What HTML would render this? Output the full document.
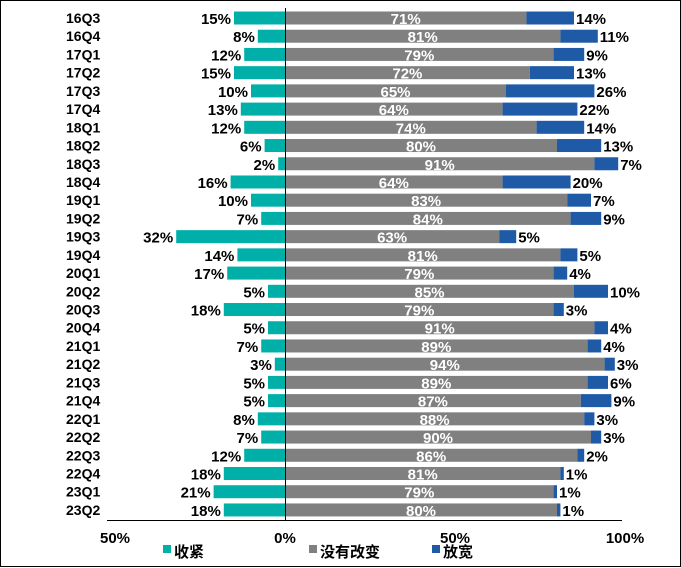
<!DOCTYPE html>
<html><head><meta charset="utf-8"><style>
html,body{margin:0;padding:0;background:#fff;}
svg{display:block;font-family:"Liberation Sans","Noto Sans CJK SC",sans-serif;font-weight:bold;}
</style></head><body>
<svg id="chart" width="681" height="568">
<rect x="0.5" y="0.5" width="680" height="566" fill="#fff" stroke="#000"/>
<g id="bars"></g>
<line x1="107" y1="520.5" x2="622" y2="520.5" stroke="#000"/>
<line x1="285.5" y1="8" x2="285.5" y2="520" stroke="#000"/>
<g id="ticks" font-size="15"></g>
<g font-size="15">
<rect x="163" y="545" width="8" height="8" fill="#00b0a8"/>
<text x="174" y="557">收紧</text>
<rect x="309" y="545" width="8" height="8" fill="#808080"/>
<text x="320" y="557">没有改变</text>
<rect x="432" y="545" width="8" height="8" fill="#1f5aa6"/>
<text x="443" y="557">放宽</text>
</g>
</svg>
<script>
const categories=["16Q3","16Q4","17Q1","17Q2","17Q3","17Q4","18Q1","18Q2","18Q3","18Q4","19Q1","19Q2","19Q3","19Q4","20Q1","20Q2","20Q3","20Q4","21Q1","21Q2","21Q3","21Q4","22Q1","22Q2","22Q3","22Q4","23Q1","23Q2"];
const tighten=[15,8,12,15,10,13,12,6,2,16,10,7,32,14,17,5,18,5,7,3,5,5,8,7,12,18,21,18];
const noChange=[71,81,79,72,65,64,74,80,91,64,83,84,63,81,79,85,79,91,89,94,89,87,88,90,86,81,79,80];
const loosen=[14,11,9,13,26,22,14,13,7,20,7,9,5,5,4,10,3,4,4,3,6,9,3,3,2,1,1,1];
const tickValues=[-50,0,50,100];
const tickLabels=["50%","0%","50%","100%"];
const NS="http://www.w3.org/2000/svg";
const x0=285,pxPer=3.4;
function xs(v){return x0+v*pxPer;}
function ys(i){return 18+i*18.22;}
function mk(tag,attrs,parent){const e=document.createElementNS(NS,tag);for(const k in attrs)e.setAttribute(k,attrs[k]);parent.appendChild(e);return e;}
const g=document.getElementById('bars');
categories.forEach((c,i)=>{
  const y=ys(i);
  let t=mk('text',{x:66,y:y+5,'font-size':14},g);t.textContent=c;
  
  
  let r=mk('rect',{x:xs(-tighten[i]),y:y-6.5,width:tighten[i]*pxPer,height:13,fill:'#00b0a8'},g);
  
  
  r=mk('rect',{x:xs(0),y:y-6.5,width:noChange[i]*pxPer,height:13,fill:'#808080'},g);
  
  
  r=mk('rect',{x:xs(noChange[i]),y:y-6.5,width:loosen[i]*pxPer,height:13,fill:'#1f5aa6'},g);
  
  
  t=mk('text',{x:xs(-tighten[i])-3,y:y+6,'font-size':15,'text-anchor':'end'},g);t.textContent=tighten[i]+'%';
  
  
  t=mk('text',{x:xs(noChange[i]/2),y:y+6,'font-size':15,'text-anchor':'middle',fill:'#fff'},g);t.textContent=noChange[i]+'%';
  
  
  t=mk('text',{x:xs(noChange[i]+loosen[i])+2,y:y+6,'font-size':15},g);t.textContent=loosen[i]+'%';
  
  
});
const tg=document.getElementById('ticks');
tickValues.forEach((v,i)=>{
  const t=mk('text',{x:xs(v),y:543,'text-anchor':'middle'},tg);t.textContent=tickLabels[i];
  
  
});
</script>
</body></html>
